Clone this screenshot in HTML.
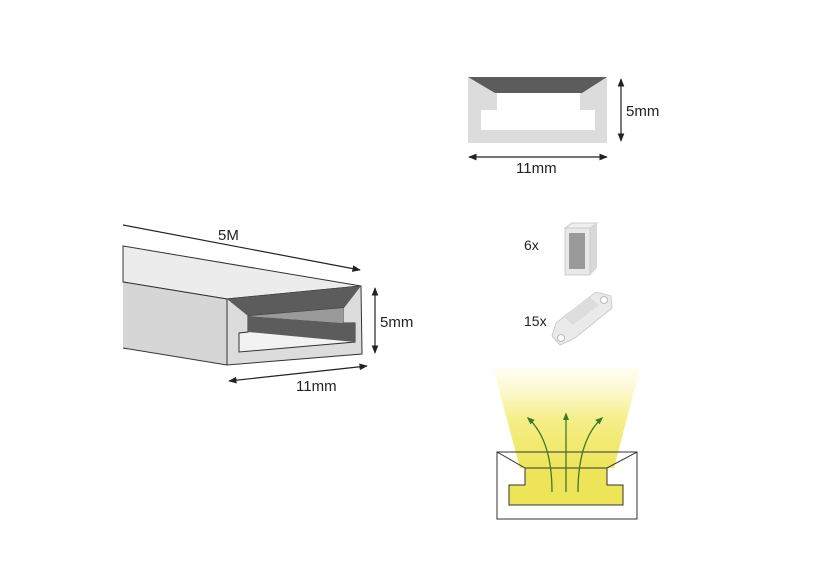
<!DOCTYPE html>
<html><head><style>
html,body{margin:0;padding:0;background:#fff;}
svg{display:block;font-family:"Liberation Sans",sans-serif;}
</style></head><body>
<svg width="830" height="584" viewBox="0 0 830 584" xmlns="http://www.w3.org/2000/svg">
<defs>
<marker id="a" viewBox="0 0 10 10" refX="9" refY="5" markerWidth="7" markerHeight="7" orient="auto-start-reverse"><path d="M0,1 L10,5 L0,9 z" fill="#222"/></marker>
<marker id="g" viewBox="0 0 10 10" refX="8" refY="5" markerWidth="6" markerHeight="6" orient="auto"><path d="M0,1 L10,5 L0,9 z" fill="#3d7a2a"/></marker>
<linearGradient id="ly" x1="0" y1="0" x2="0" y2="1">
<stop offset="0" stop-color="#fbf7c0" stop-opacity="0.2"/><stop offset="0.5" stop-color="#f6ee8a"/><stop offset="1" stop-color="#eee55a"/></linearGradient>
</defs>
<!-- Profile 3D -->
<line x1="123" y1="225" x2="360" y2="270" stroke="#222" stroke-width="1.2" marker-end="url(#a)"/>
<text x="218" y="240" font-size="15" fill="#222">5M</text>
<polygon points="123,246 361,286 227,299 123,282" fill="#ececec" stroke="#333" stroke-width="1"/>
<polygon points="123,282 227,299 227,365 123,348" fill="#d6d6d6"/>
<line x1="123" y1="282" x2="227" y2="299" stroke="#333"/>
<line x1="123" y1="348" x2="227" y2="365" stroke="#333"/>
<polygon points="227,299 361,286 362,354 227,365" fill="#dcdcdc" stroke="#333" stroke-width="1"/>
<polygon points="227,299 361,286 344,308 248,316" fill="#5c5c5c"/>
<polygon points="248,316 343,308 343,323 355,323 355,342 239,352 239,333 248,332" fill="#f2f2f2" stroke="#333" stroke-width="1"/>
<polygon points="248,316 343,308 343,323" fill="#9a9a9a"/>
<polygon points="248,316 343,323 355,323 355,342 248,332" fill="#5c5c5c"/>
<line x1="375" y1="288" x2="375" y2="353" stroke="#222" stroke-width="1.2" marker-start="url(#a)" marker-end="url(#a)"/>
<text x="380" y="327" font-size="15" fill="#222">5mm</text>
<line x1="229" y1="381" x2="367" y2="366" stroke="#222" stroke-width="1.2" marker-start="url(#a)" marker-end="url(#a)"/>
<text x="296" y="391" font-size="15" fill="#222">11mm</text>
<!-- Cross section -->
<rect x="468" y="77" width="139" height="66" fill="#dcdcdc"/>
<polygon points="468,77 607,77 582,93 495,93" fill="#5c5c5c"/>
<rect x="497" y="93" width="83" height="18" fill="#fff"/>
<rect x="481" y="110" width="114" height="20" fill="#fff"/>
<line x1="621" y1="79" x2="621" y2="141" stroke="#222" stroke-width="1.2" marker-start="url(#a)" marker-end="url(#a)"/>
<text x="626" y="116" font-size="15" fill="#222">5mm</text>
<line x1="469" y1="157" x2="607" y2="157" stroke="#222" stroke-width="1.2" marker-start="url(#a)" marker-end="url(#a)"/>
<text x="516" y="173" font-size="15" fill="#222">11mm</text>
<!-- connector -->
<polygon points="565,228 572,223 597,223 590,228" fill="#eeeeee" stroke="#ccc"/>
<polygon points="590,228 597,223 597,268 590,275" fill="#d8d8d8"/>
<rect x="565" y="228" width="25" height="47" fill="#e8e8e8" stroke="#ccc"/>
<rect x="569" y="233" width="16" height="36" fill="#9a9a9a"/>
<text x="524" y="250" font-size="14" fill="#222">6x</text>
<!-- clip -->
<polygon points="556,323 596,292 611,296 612,308 575,338 560,345 552,336" fill="#eaeaea" stroke="#ccc"/>
<polygon points="563,316 590,297 599,305 573,325" fill="#dddddd"/>
<circle cx="561" cy="338" r="3.5" fill="#fff" stroke="#bbb"/>
<circle cx="604" cy="300" r="3.5" fill="#fff" stroke="#bbb"/>
<text x="524" y="326" font-size="14" fill="#222">15x</text>
<!-- light -->
<polygon points="493,368 640,368 614,468 520,468" fill="url(#ly)"/>
<rect x="497" y="452" width="140" height="67" fill="none" stroke="#333" stroke-width="1"/>
<polyline points="497,452 525,468 607,468 637,452" fill="none" stroke="#333"/>
<polygon points="525,468 607,468 607,485 623,485 623,505 509,505 509,485 525,485" fill="#eee45a" stroke="#333"/>
<path d="M566,492 L566,414" stroke="#3d7a2a" stroke-width="1.3" fill="none" marker-end="url(#g)"/>
<path d="M552,492 Q552,440 528,418" stroke="#3d7a2a" stroke-width="1.3" fill="none" marker-end="url(#g)"/>
<path d="M578,492 Q578,440 602,418" stroke="#3d7a2a" stroke-width="1.3" fill="none" marker-end="url(#g)"/>
</svg>
</body></html>
